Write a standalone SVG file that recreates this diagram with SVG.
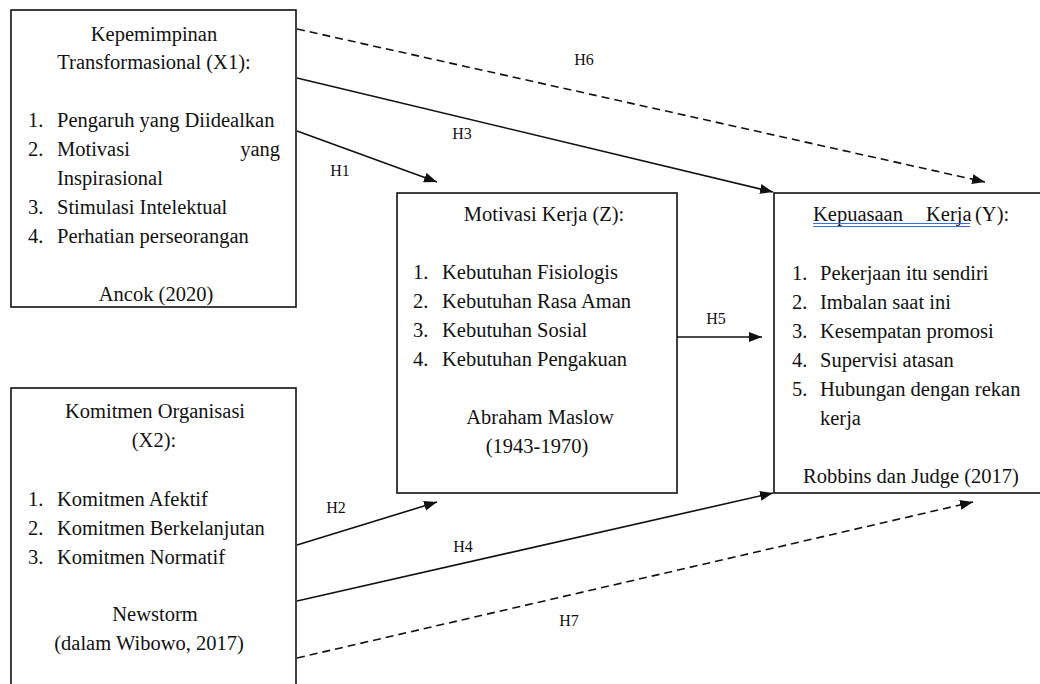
<svg xmlns="http://www.w3.org/2000/svg" width="1040" height="684" viewBox="0 0 1040 684">
<style>
text { font-family: 'Liberation Serif', 'Times New Roman', serif; font-size: 20.5px; fill: #111; }
.c { text-anchor: middle; }
.e { text-anchor: end; }
.lbl { font-size: 16px; text-anchor: middle; }
.box { fill: #fff; stroke: #111; stroke-width: 1.6; }
.ln { fill: none; stroke: #111; stroke-width: 1.6; }
.dash { stroke-dasharray: 8 5; }
.ul { stroke: #3a6fe0; stroke-width: 1.2; }
</style>
<defs>
<marker id="ah" markerUnits="userSpaceOnUse" markerWidth="14" markerHeight="11" refX="13" refY="5" orient="auto">
<path d="M0,0 L13,5 L0,10 z" fill="#111"/>
</marker>
</defs>
<rect width="1040" height="684" fill="#fff"/>

<g id="connectors">
<line class="ln dash" x1="297" y1="29" x2="985" y2="182" marker-end="url(#ah)"/>
<line class="ln" x1="297" y1="78" x2="773" y2="192" marker-end="url(#ah)"/>
<line class="ln" x1="297" y1="131" x2="437" y2="182" marker-end="url(#ah)"/>
<line class="ln" x1="677" y1="337" x2="762" y2="337" marker-end="url(#ah)"/>
<line class="ln" x1="297" y1="545" x2="437" y2="502" marker-end="url(#ah)"/>
<line class="ln" x1="297" y1="601" x2="773" y2="493" marker-end="url(#ah)"/>
<line class="ln dash" x1="297" y1="658" x2="973" y2="502" marker-end="url(#ah)"/>
<text class="lbl" x="584" y="65">H6</text>
<text class="lbl" x="462" y="139">H3</text>
<text class="lbl" x="340" y="176">H1</text>
<text class="lbl" x="716" y="324">H5</text>
<text class="lbl" x="336" y="513">H2</text>
<text class="lbl" x="463" y="552">H4</text>
<text class="lbl" x="569" y="626">H7</text>
</g>

<g id="x1">
<rect class="box" x="11" y="10" width="285" height="297"/>
<text class="c" x="154" y="41">Kepemimpinan</text>
<text class="c" x="154" y="69">Transformasional (X1):</text>
<text x="28" y="127">1.</text><text x="57" y="127">Pengaruh yang Diidealkan</text>
<text x="28" y="156">2.</text><text x="57" y="156">Motivasi</text><text class="e" x="280" y="156">yang</text>
<text x="57" y="185">Inspirasional</text>
<text x="28" y="214">3.</text><text x="57" y="214">Stimulasi Intelektual</text>
<text x="28" y="243">4.</text><text x="57" y="243">Perhatian perseorangan</text>
<text class="c" x="156" y="301">Ancok (2020)</text>
</g>

<g id="x2">
<rect class="box" x="11" y="388" width="285" height="320"/>
<text class="c" x="155" y="418">Komitmen Organisasi</text>
<text class="c" x="154" y="447">(X2):</text>
<text x="28" y="506">1.</text><text x="57" y="506">Komitmen Afektif</text>
<text x="28" y="535">2.</text><text x="57" y="535">Komitmen Berkelanjutan</text>
<text x="28" y="564">3.</text><text x="57" y="564">Komitmen Normatif</text>
<text class="c" x="155" y="621">Newstorm</text>
<text class="c" x="149" y="650">(dalam Wibowo, 2017)</text>
</g>

<g id="z">
<rect class="box" x="397" y="193" width="280" height="300"/>
<text class="c" x="544" y="221">Motivasi Kerja (Z):</text>
<text x="413" y="279">1.</text><text x="442" y="279">Kebutuhan Fisiologis</text>
<text x="413" y="308">2.</text><text x="442" y="308">Kebutuhan Rasa Aman</text>
<text x="413" y="337">3.</text><text x="442" y="337">Kebutuhan Sosial</text>
<text x="413" y="366">4.</text><text x="442" y="366">Kebutuhan Pengakuan</text>
<text class="c" x="540" y="424">Abraham Maslow</text>
<text class="c" x="537" y="453">(1943-1970)</text>
</g>

<g id="y">
<rect class="box" x="774" y="193" width="290" height="300"/>
<text x="813" y="221">Kepuasaan<tspan x="926">Kerja</tspan><tspan x="975">(Y):</tspan></text>
<line class="ul" x1="813" y1="223.5" x2="970" y2="223.5"/>
<line class="ul" x1="813" y1="226.5" x2="970" y2="226.5"/>
<text x="792" y="280">1.</text><text x="820" y="280">Pekerjaan itu sendiri</text>
<text x="792" y="309">2.</text><text x="820" y="309">Imbalan saat ini</text>
<text x="792" y="338">3.</text><text x="820" y="338">Kesempatan promosi</text>
<text x="792" y="367">4.</text><text x="820" y="367">Supervisi atasan</text>
<text x="792" y="396">5.</text><text x="820" y="396">Hubungan dengan rekan</text>
<text x="820" y="425">kerja</text>
<text class="c" x="911" y="483">Robbins dan Judge (2017)</text>
</g>
</svg>
